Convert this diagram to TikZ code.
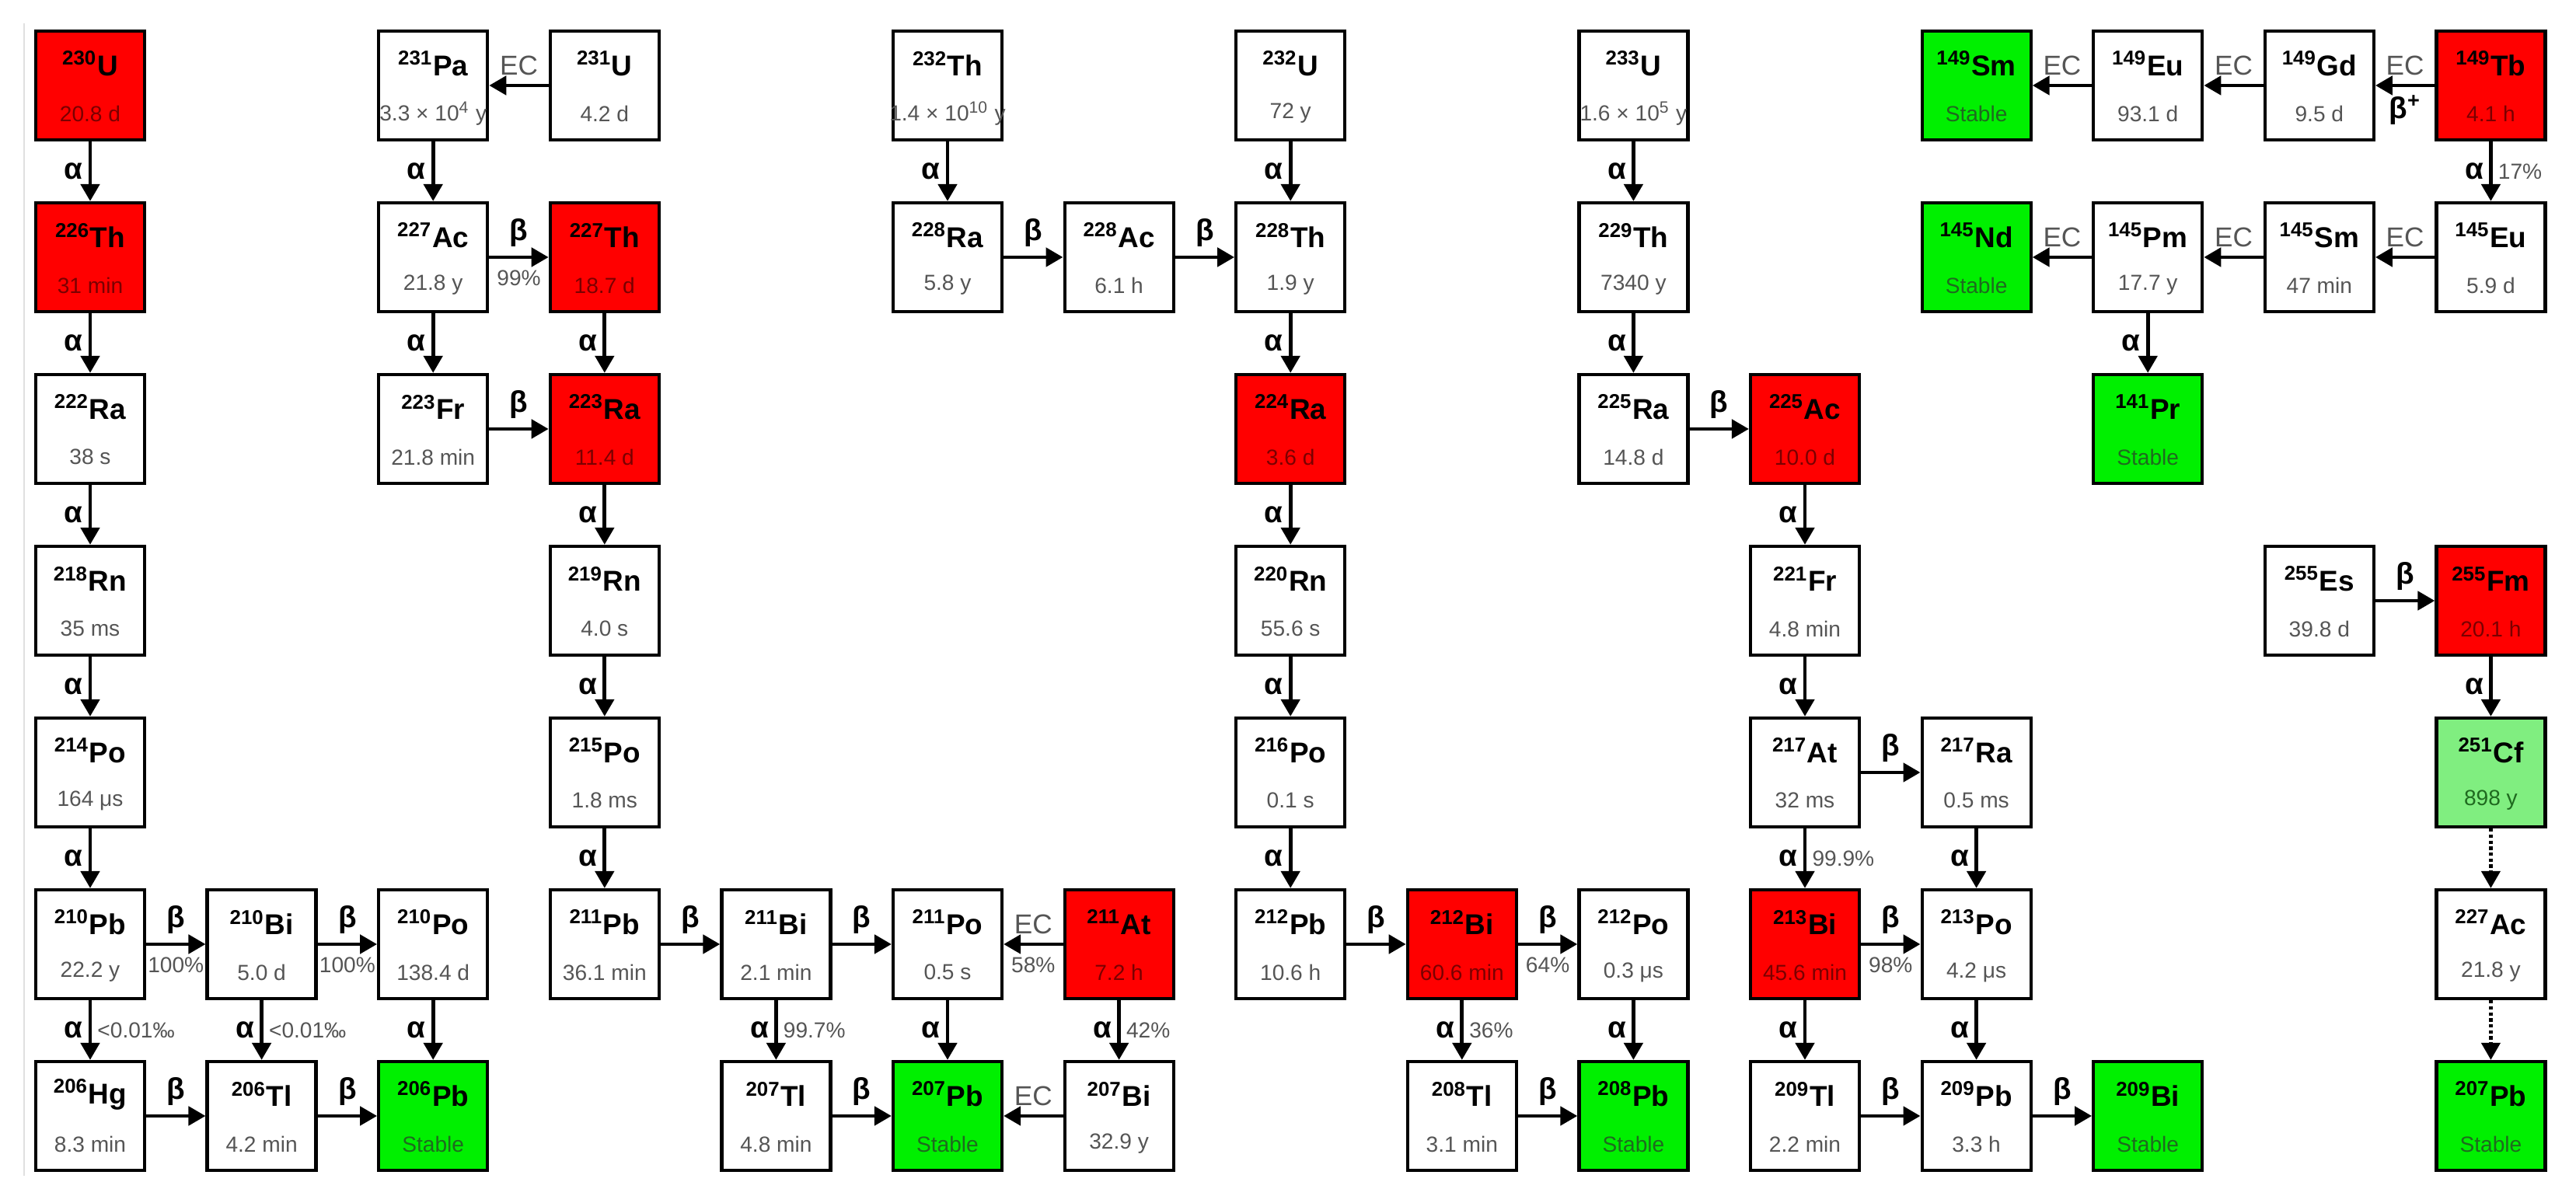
\documentclass[tikz,border=0pt]{standalone}
\usepackage{fontspec}
\setmainfont{Liberation Sans}
\usetikzlibrary{arrows.meta}
\definecolor{nred}{HTML}{FF0000}
\definecolor{ngreen}{HTML}{00F000}
\definecolor{nlgreen}{HTML}{80EE80}
\definecolor{hgray}{HTML}{555555}
\definecolor{hred}{HTML}{7A0000}
\definecolor{hgreen}{HTML}{1F6A1F}
\tikzset{
 box/.style={draw=black,line width=1.2pt,minimum width=1.4cm,minimum height=1.4cm,inner sep=0pt},
 wbox/.style={fill=white}, rbox/.style={fill=nred}, gbox/.style={fill=ngreen}, lbox/.style={fill=nlgreen},
 wboxtext/.style={text=hgray}, rboxtext/.style={text=hred}, gboxtext/.style={text=hgreen}, lboxtext/.style={text=hgreen},
 nuctext/.style={font=\fontsize{10.5}{12}\selectfont\bfseries,inner sep=0pt},
 halftext/.style={font=\fontsize{8}{9}\selectfont,inner sep=0pt},
 arr/.style={line width=1.4pt,-{Triangle[length=0.22cm,width=0.24cm]}},
 al/.style={left,font=\fontsize{11}{12}\selectfont\bfseries,inner sep=2pt},
 ab/.style={above,font=\fontsize{11}{12}\selectfont\bfseries,inner sep=3pt},
 bb/.style={below,font=\fontsize{11}{12}\selectfont\bfseries,inner sep=3pt},
 pr/.style={right,font=\fontsize{8}{9}\selectfont,text=hgray,inner sep=2pt},
 pb/.style={below,font=\fontsize{8}{9}\selectfont,text=hgray,inner sep=4pt},
 ec/.style={above,font=\fontsize{10}{11}\selectfont,text=hgray,inner sep=3pt},
}
\newcommand{\nuc}[7]{%
 \node[box,#7] (#1) at ({1.16+2.206*#2},{14.38-2.21*#3}) {};
 \node[nuctext] at ([yshift=0.28cm]#1.center) {\textsuperscript{#4}#5};
 \node[halftext,#7text] at ([yshift=-0.36cm]#1.center) {#6};
}
\begin{document}
\begin{tikzpicture}
\useasboundingbox[fill=white] (0,0) rectangle (33.14,15.48);
\coordinate (lt) at (0.31,15.18); \coordinate (lb) at (0.31,0.35);
\draw[black!12,line width=0.6pt] (lt) -- (lb);
% column 0
\nuc{U230}{0}{0}{230}{U}{20.8 d}{rbox}
\nuc{Th226}{0}{1}{226}{Th}{31 min}{rbox}
\nuc{Ra222}{0}{2}{222}{Ra}{38 s}{wbox}
\nuc{Rn218}{0}{3}{218}{Rn}{35 ms}{wbox}
\nuc{Po214}{0}{4}{214}{Po}{164 μs}{wbox}
\nuc{Pb210}{0}{5}{210}{Pb}{22.2 y}{wbox}
\nuc{Hg206}{0}{6}{206}{Hg}{8.3 min}{wbox}
\nuc{Bi210}{1}{5}{210}{Bi}{5.0 d}{wbox}
\nuc{Tl206}{1}{6}{206}{Tl}{4.2 min}{wbox}
\nuc{Pa231}{2}{0}{231}{Pa}{3.3 × 10\textsuperscript{4} y}{wbox}
\nuc{Ac227}{2}{1}{227}{Ac}{21.8 y}{wbox}
\nuc{Fr223}{2}{2}{223}{Fr}{21.8 min}{wbox}
\nuc{Po210}{2}{5}{210}{Po}{138.4 d}{wbox}
\nuc{Pb206}{2}{6}{206}{Pb}{Stable}{gbox}
\nuc{U231}{3}{0}{231}{U}{4.2 d}{wbox}
\nuc{Th227}{3}{1}{227}{Th}{18.7 d}{rbox}
\nuc{Ra223}{3}{2}{223}{Ra}{11.4 d}{rbox}
\nuc{Rn219}{3}{3}{219}{Rn}{4.0 s}{wbox}
\nuc{Po215}{3}{4}{215}{Po}{1.8 ms}{wbox}
\nuc{Pb211}{3}{5}{211}{Pb}{36.1 min}{wbox}
\nuc{Bi211}{4}{5}{211}{Bi}{2.1 min}{wbox}
\nuc{Tl207}{4}{6}{207}{Tl}{4.8 min}{wbox}
\nuc{Th232}{5}{0}{232}{Th}{1.4 × 10\textsuperscript{10} y}{wbox}
\nuc{Ra228}{5}{1}{228}{Ra}{5.8 y}{wbox}
\nuc{Po211}{5}{5}{211}{Po}{0.5 s}{wbox}
\nuc{Pb207}{5}{6}{207}{Pb}{Stable}{gbox}
\nuc{Ac228}{6}{1}{228}{Ac}{6.1 h}{wbox}
\nuc{At211}{6}{5}{211}{At}{7.2 h}{rbox}
\nuc{Bi207}{6}{6}{207}{Bi}{32.9 y}{wbox}
\nuc{U232}{7}{0}{232}{U}{72 y}{wbox}
\nuc{Th228}{7}{1}{228}{Th}{1.9 y}{wbox}
\nuc{Ra224}{7}{2}{224}{Ra}{3.6 d}{rbox}
\nuc{Rn220}{7}{3}{220}{Rn}{55.6 s}{wbox}
\nuc{Po216}{7}{4}{216}{Po}{0.1 s}{wbox}
\nuc{Pb212}{7}{5}{212}{Pb}{10.6 h}{wbox}
\nuc{Bi212}{8}{5}{212}{Bi}{60.6 min}{rbox}
\nuc{Tl208}{8}{6}{208}{Tl}{3.1 min}{wbox}
\nuc{U233}{9}{0}{233}{U}{1.6 × 10\textsuperscript{5} y}{wbox}
\nuc{Th229}{9}{1}{229}{Th}{7340 y}{wbox}
\nuc{Ra225}{9}{2}{225}{Ra}{14.8 d}{wbox}
\nuc{Po212}{9}{5}{212}{Po}{0.3 μs}{wbox}
\nuc{Pb208}{9}{6}{208}{Pb}{Stable}{gbox}
\nuc{Ac225}{10}{2}{225}{Ac}{10.0 d}{rbox}
\nuc{Fr221}{10}{3}{221}{Fr}{4.8 min}{wbox}
\nuc{At217}{10}{4}{217}{At}{32 ms}{wbox}
\nuc{Bi213}{10}{5}{213}{Bi}{45.6 min}{rbox}
\nuc{Tl209}{10}{6}{209}{Tl}{2.2 min}{wbox}
\nuc{Sm149}{11}{0}{149}{Sm}{Stable}{gbox}
\nuc{Nd145}{11}{1}{145}{Nd}{Stable}{gbox}
\nuc{Ra217}{11}{4}{217}{Ra}{0.5 ms}{wbox}
\nuc{Po213}{11}{5}{213}{Po}{4.2 μs}{wbox}
\nuc{Pb209}{11}{6}{209}{Pb}{3.3 h}{wbox}
\nuc{Eu149}{12}{0}{149}{Eu}{93.1 d}{wbox}
\nuc{Pm145}{12}{1}{145}{Pm}{17.7 y}{wbox}
\nuc{Pr141}{12}{2}{141}{Pr}{Stable}{gbox}
\nuc{Bi209}{12}{6}{209}{Bi}{Stable}{gbox}
\nuc{Gd149}{13}{0}{149}{Gd}{9.5 d}{wbox}
\nuc{Sm145}{13}{1}{145}{Sm}{47 min}{wbox}
\nuc{Es255}{13}{3}{255}{Es}{39.8 d}{wbox}
\nuc{Tb149}{14}{0}{149}{Tb}{4.1 h}{rbox}
\nuc{Eu145}{14}{1}{145}{Eu}{5.9 d}{wbox}
\nuc{Fm255}{14}{3}{255}{Fm}{20.1 h}{rbox}
\nuc{Cf251}{14}{4}{251}{Cf}{898 y}{lbox}
\nuc{AcB227}{14}{5}{227}{Ac}{21.8 y}{wbox}
\nuc{PbB207}{14}{6}{207}{Pb}{Stable}{gbox}
% decays
\draw[arr] (U230) -- node[al]{α} (Th226);
\draw[arr] (Th226) -- node[al]{α} (Ra222);
\draw[arr] (Ra222) -- node[al]{α} (Rn218);
\draw[arr] (Rn218) -- node[al]{α} (Po214);
\draw[arr] (Po214) -- node[al]{α} (Pb210);
\draw[arr] (Pb210) -- node[al]{α} node[pr]{<0.01‰} (Hg206);
\draw[arr] (Pb210) -- node[ab]{β} node[pb]{100\%} (Bi210);
\draw[arr] (Bi210) -- node[ab]{β} node[pb]{100\%} (Po210);
\draw[arr] (Bi210) -- node[al]{α} node[pr]{<0.01‰} (Tl206);
\draw[arr] (Po210) -- node[al]{α} (Pb206);
\draw[arr] (Hg206) -- node[ab]{β} (Tl206);
\draw[arr] (Tl206) -- node[ab]{β} (Pb206);
\draw[arr] (U231) -- node[ec]{EC} (Pa231);
\draw[arr] (Pa231) -- node[al]{α} (Ac227);
\draw[arr] (Ac227) -- node[ab]{β} node[pb]{99\%} (Th227);
\draw[arr] (Ac227) -- node[al]{α} (Fr223);
\draw[arr] (Th227) -- node[al]{α} (Ra223);
\draw[arr] (Fr223) -- node[ab]{β} (Ra223);
\draw[arr] (Ra223) -- node[al]{α} (Rn219);
\draw[arr] (Rn219) -- node[al]{α} (Po215);
\draw[arr] (Po215) -- node[al]{α} (Pb211);
\draw[arr] (Pb211) -- node[ab]{β} (Bi211);
\draw[arr] (Bi211) -- node[ab]{β} (Po211);
\draw[arr] (Bi211) -- node[al]{α} node[pr]{99.7\%} (Tl207);
\draw[arr] (At211) -- node[ec]{EC} node[pb]{58\%} (Po211);
\draw[arr] (Po211) -- node[al]{α} (Pb207);
\draw[arr] (At211) -- node[al]{α} node[pr]{42\%} (Bi207);
\draw[arr] (Bi207) -- node[ec]{EC} (Pb207);
\draw[arr] (Tl207) -- node[ab]{β} (Pb207);
\draw[arr] (Th232) -- node[al]{α} (Ra228);
\draw[arr] (Ra228) -- node[ab]{β} (Ac228);
\draw[arr] (Ac228) -- node[ab]{β} (Th228);
\draw[arr] (U232) -- node[al]{α} (Th228);
\draw[arr] (Th228) -- node[al]{α} (Ra224);
\draw[arr] (Ra224) -- node[al]{α} (Rn220);
\draw[arr] (Rn220) -- node[al]{α} (Po216);
\draw[arr] (Po216) -- node[al]{α} (Pb212);
\draw[arr] (Pb212) -- node[ab]{β} (Bi212);
\draw[arr] (Bi212) -- node[ab]{β} node[pb]{64\%} (Po212);
\draw[arr] (Bi212) -- node[al]{α} node[pr]{36\%} (Tl208);
\draw[arr] (Po212) -- node[al]{α} (Pb208);
\draw[arr] (Tl208) -- node[ab]{β} (Pb208);
\draw[arr] (U233) -- node[al]{α} (Th229);
\draw[arr] (Th229) -- node[al]{α} (Ra225);
\draw[arr] (Ra225) -- node[ab]{β} (Ac225);
\draw[arr] (Ac225) -- node[al]{α} (Fr221);
\draw[arr] (Fr221) -- node[al]{α} (At217);
\draw[arr] (At217) -- node[ab]{β} (Ra217);
\draw[arr] (At217) -- node[al]{α} node[pr]{99.9\%} (Bi213);
\draw[arr] (Ra217) -- node[al]{α} (Po213);
\draw[arr] (Bi213) -- node[ab]{β} node[pb]{98\%} (Po213);
\draw[arr] (Bi213) -- node[al]{α} (Tl209);
\draw[arr] (Po213) -- node[al]{α} (Pb209);
\draw[arr] (Tl209) -- node[ab]{β} (Pb209);
\draw[arr] (Pb209) -- node[ab]{β} (Bi209);
\draw[arr] (Tb149) -- node[ec]{EC} node[bb]{β\textsuperscript{+}} (Gd149);
\draw[arr] (Gd149) -- node[ec]{EC} (Eu149);
\draw[arr] (Eu149) -- node[ec]{EC} (Sm149);
\draw[arr] (Tb149) -- node[al]{α} node[pr]{17\%} (Eu145);
\draw[arr] (Eu145) -- node[ec]{EC} (Sm145);
\draw[arr] (Sm145) -- node[ec]{EC} (Pm145);
\draw[arr] (Pm145) -- node[ec]{EC} (Nd145);
\draw[arr] (Pm145) -- node[al]{α} (Pr141);
\draw[arr] (Es255) -- node[ab]{β} (Fm255);
\draw[arr] (Fm255) -- node[al]{α} (Cf251);
\draw[arr,line width=1.2pt,densely dotted] (Cf251) -- (AcB227);
\draw[arr,line width=1.2pt,densely dotted] (AcB227) -- (PbB207);
\end{tikzpicture}
\end{document}
